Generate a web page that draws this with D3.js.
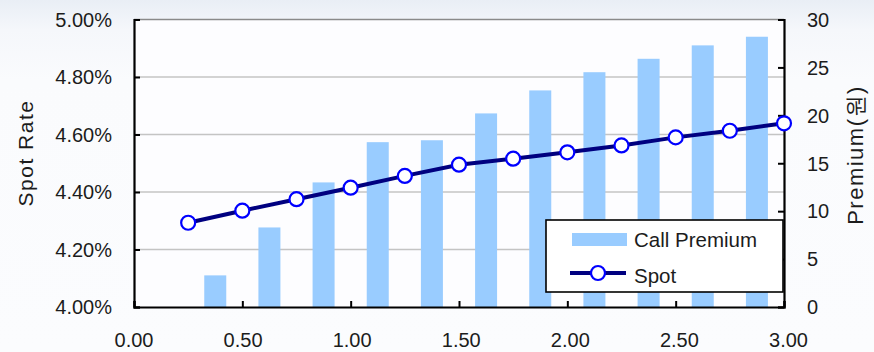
<!DOCTYPE html>
<html>
<head>
<meta charset="utf-8">
<script src="https://cdn.jsdelivr.net/npm/d3@7"></script>
<style>
  html, body { margin: 0; padding: 0; }
  body { width: 874px; height: 352px; overflow: hidden;
         background: linear-gradient(to bottom, #e9eef5 0px, #f5f7fb 30px, #fafbfd 80px, #fbfcfe 352px); }
  svg { display: block; font-family: "Liberation Sans", Arial, sans-serif; }
</style>
</head>
<body>
<svg id="chart" width="874" height="352"></svg>
<script>
// Maturities (years) for the spot curve and the call premium bars
const spotMaturities = [0.25, 0.5, 0.75, 1.0, 1.25, 1.5, 1.75, 2.0, 2.25, 2.5, 2.75, 3.0];
const spotRates = [4.293, 4.335, 4.375, 4.415, 4.456, 4.495, 4.516, 4.538, 4.562, 4.590, 4.613, 4.639]; // %
const premiumMaturities = [0.375, 0.625, 0.875, 1.125, 1.375, 1.625, 1.875, 2.125, 2.375, 2.625, 2.875];
const callPremiums = [3.3, 8.3, 13.0, 17.2, 17.4, 20.2, 22.6, 24.5, 25.9, 27.3, 28.2]; // 원
const xTicks = [0, 0.5, 1.0, 1.5, 2.0, 2.5, 3.0];
const leftTicks = [4.0, 4.2, 4.4, 4.6, 4.8, 5.0];
const rightTicks = [0, 5, 10, 15, 20, 25, 30];

const svg = d3.select("#chart");
const m = { left: 134, right: 784, top: 19.5, bottom: 307 };

const x = d3.scaleLinear().domain([0, 3]).range([m.left, m.right]);
const yL = d3.scaleLinear().domain([4.0, 5.0]).range([m.bottom, m.top]);
const yR = d3.scaleLinear().domain([0, 30]).range([m.bottom, m.top]);

const textColor = "#1c1c1c";
const tickFont = 20;

// plot area
svg.append("rect")
  .attr("x", m.left).attr("y", m.top)
  .attr("width", m.right - m.left).attr("height", m.bottom - m.top)
  .attr("fill", "#fdfdff");

// horizontal gridlines
svg.append("g").selectAll("line")
  .data(leftTicks.filter(d => d > 4.0 && d < 5.0))
  .join("line")
  .attr("x1", m.left).attr("x2", m.right)
  .attr("y1", d => yL(d)).attr("y2", d => yL(d))
  .attr("stroke", "#c4c4c4").attr("stroke-width", 1.5);

// top border
svg.append("line")
  .attr("x1", m.left).attr("x2", m.right)
  .attr("y1", m.top).attr("y2", m.top)
  .attr("stroke", "#8a8a8a").attr("stroke-width", 1.5);

// call premium bars (right axis)
const barW = 22;
svg.append("g").selectAll("rect")
  .data(premiumMaturities.map((t, i) => ({ t, v: callPremiums[i] })))
  .join("rect")
  .attr("x", d => x(d.t) - barW / 2)
  .attr("width", barW)
  .attr("y", d => yR(d.v))
  .attr("height", d => yR(0) - yR(d.v))
  .attr("fill", "#99ccff");

// axes
const fmtPct = d => d.toFixed(2) + "%";
const gL = svg.append("g").attr("transform", `translate(${m.left},0)`)
  .call(d3.axisRight(yL).tickValues(leftTicks).tickSize(6).tickFormat(""));
const gR = svg.append("g").attr("transform", `translate(${m.right},0)`)
  .call(d3.axisLeft(yR).tickValues(rightTicks).tickSize(6).tickFormat(""));
const gB = svg.append("g").attr("transform", `translate(0,${m.bottom})`)
  .call(d3.axisTop(x).tickValues(xTicks).tickSize(6).tickFormat(""));
[gL, gR, gB].forEach(g => {
  g.select(".domain").attr("stroke", "#000").attr("stroke-width", 2.2);
  g.selectAll(".tick line").attr("stroke", "#000").attr("stroke-width", 2);
});

// tick labels
svg.append("g").selectAll("text")
  .data(leftTicks).join("text")
  .attr("x", 112).attr("y", d => yL(d) + 2)
  .attr("text-anchor", "end").attr("dominant-baseline", "middle")
  .attr("font-size", tickFont).attr("fill", textColor)
  .text(fmtPct);

svg.append("g").selectAll("text")
  .data(rightTicks).join("text")
  .attr("x", 807).attr("y", d => yR(d) + 2)
  .attr("text-anchor", "start").attr("dominant-baseline", "middle")
  .attr("font-size", tickFont).attr("fill", textColor)
  .text(d => d);

svg.append("g").selectAll("text")
  .data(xTicks).join("text")
  .attr("x", d => x(d) + d * 1.5).attr("y", 342)
  .attr("text-anchor", "middle").attr("dominant-baseline", "middle")
  .attr("font-size", tickFont).attr("fill", textColor)
  .text(d => d.toFixed(2));

// axis titles
svg.append("text")
  .attr("transform", "translate(33,153) rotate(-90)")
  .attr("text-anchor", "middle")
  .attr("font-size", 21).attr("letter-spacing", 1.5).attr("fill", textColor)
  .text("Spot Rate");

svg.append("text")
  .attr("transform", "translate(857,155) rotate(-90)")
  .attr("text-anchor", "middle").attr("dominant-baseline", "middle")
  .attr("font-size", 22).attr("letter-spacing", 1.5).attr("fill", textColor)
  .text("Premium(원)");

// spot curve (left axis)
const pts = spotMaturities.map((t, i) => ({ t, v: spotRates[i] }));
svg.append("path")
  .datum(pts)
  .attr("d", d3.line().x(d => x(d.t)).y(d => yL(d.v)))
  .attr("fill", "none").attr("stroke", "#000080").attr("stroke-width", 4);
svg.append("g").selectAll("circle")
  .data(pts).join("circle")
  .attr("cx", d => x(d.t)).attr("cy", d => yL(d.v))
  .attr("r", 7)
  .attr("fill", "#fff").attr("stroke", "#0000ff").attr("stroke-width", 2.2);

// legend
const lg = svg.append("g");
lg.append("rect")
  .attr("x", 546).attr("y", 220).attr("width", 237).attr("height", 72)
  .attr("fill", "#fff").attr("stroke", "#000").attr("stroke-width", 1.6);
lg.append("rect")
  .attr("x", 572).attr("y", 233).attr("width", 55).attr("height", 13)
  .attr("fill", "#99ccff");
lg.append("text")
  .attr("x", 634).attr("y", 242).attr("dominant-baseline", "middle")
  .attr("font-size", 20.5).attr("fill", textColor).text("Call Premium");
lg.append("line")
  .attr("x1", 570).attr("x2", 626).attr("y1", 273).attr("y2", 273)
  .attr("stroke", "#000080").attr("stroke-width", 4);
lg.append("circle")
  .attr("cx", 598).attr("cy", 273).attr("r", 7)
  .attr("fill", "#fff").attr("stroke", "#0000ff").attr("stroke-width", 2.2);
lg.append("text")
  .attr("x", 634).attr("y", 278).attr("dominant-baseline", "middle")
  .attr("font-size", 20.5).attr("fill", textColor).text("Spot");
</script>
</body>
</html>
